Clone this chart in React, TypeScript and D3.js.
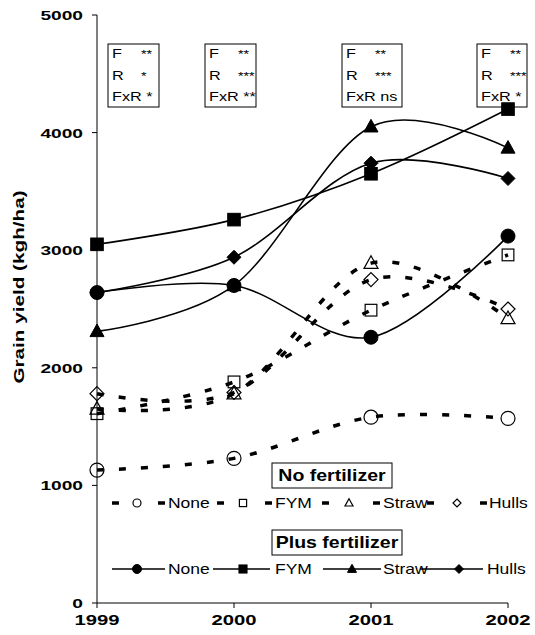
import React from "react";
import * as d3 from "d3";

const years = [1999, 2000, 2001, 2002];
const yTicks = [0, 1000, 2000, 3000, 4000, 5000];

// Plus fertilizer
const plusNone = [2640, 2700, 2260, 3120];
const plusFYM = [3050, 3260, 3650, 4200];
const plusStraw = [2310, 2700, 4050, 3870];
const plusHulls = [2640, 2940, 3740, 3610];
// No fertilizer
const noNone = [1130, 1230, 1580, 1570];
const noFYM = [1610, 1880, 2490, 2960];
const noStraw = [1650, 1780, 2890, 2420];
const noHulls = [1780, 1790, 2750, 2500];

const residueNames = ["None", "FYM", "Straw", "Hulls"];
const statsF = ["**", "**", "**", "**"];
const statsR = ["*", "***", "***", "***"];
const statsFxR = ["*", "**", "ns", "*"];

const FONT = "Arial, 'Liberation Sans', Helvetica, sans-serif";

type Shape = "circle" | "square" | "triangle" | "diamond";
const shapes: Shape[] = ["circle", "square", "triangle", "diamond"];

function Marker({ shape, x, y, size, filled }: { shape: Shape; x: number; y: number; size: number; filled: boolean }) {
  const fill = filled ? "#000" : "none";
  const stroke = "#000";
  const sw = filled ? 1 : 1.2;
  const h = size / 2;
  if (shape === "circle") return <circle cx={x} cy={y} r={h} fill={fill} stroke={stroke} strokeWidth={sw} />;
  if (shape === "square") return <rect x={x - h * 0.9} y={y - h * 0.9} width={size * 0.9} height={size * 0.9} fill={fill} stroke={stroke} strokeWidth={sw} />;
  if (shape === "triangle")
    return <path d={`M${x},${y - h * 1.05}L${x + h},${y + h * 0.75}L${x - h},${y + h * 0.75}Z`} fill={fill} stroke={stroke} strokeWidth={sw} />;
  return <path d={`M${x},${y - h}L${x + h},${y}L${x},${y + h}L${x - h},${y}Z`} fill={fill} stroke={stroke} strokeWidth={sw} />;
}

// Text widened along its own direction (the reference uses a wide face)
function WText({
  x,
  y,
  sx,
  size,
  bold,
  anchor,
  rotate,
  children,
}: {
  x: number;
  y: number;
  sx: number;
  size: number;
  bold?: boolean;
  anchor?: "start" | "middle" | "end";
  rotate?: number;
  children: React.ReactNode;
}) {
  const t = `translate(${x},${y})${rotate ? ` rotate(${rotate})` : ""} scale(${sx},1)`;
  return (
    <text transform={t} fontSize={size} fontWeight={bold ? "bold" : "normal"} textAnchor={anchor || "start"}>
      {children}
    </text>
  );
}

export default function App() {
  const W = 535;
  const H = 635;
  const x = d3.scaleLinear().domain([1999, 2002]).range([97, 508]);
  const y = d3.scaleLinear().domain([0, 5000]).range([603, 15]);
  const line = d3
    .line<number>()
    .x((_, i) => x(years[i]))
    .y((d) => y(d))
    .curve(d3.curveCatmullRom.alpha(0));

  const noSeries = [noNone, noFYM, noStraw, noHulls];
  const plusSeries = [plusNone, plusFYM, plusStraw, plusHulls];

  const boxes = [
    { x: 108, w: 51 },
    { x: 205, w: 51 },
    { x: 342, w: 60 },
    { x: 477, w: 50 },
  ];

  const legNo = [
    { x1: 112, x2: 165, m: 137, t: 168 },
    { x1: 217, x2: 272, m: 243, t: 275 },
    { x1: 322, x2: 380, m: 349, t: 383 },
    { x1: 427, x2: 487, m: 457, t: 489 },
  ];
  const legPlus = [
    { x1: 112, x2: 165, m: 137, t: 168 },
    { x1: 213, x2: 270, m: 243, t: 275 },
    { x1: 323, x2: 381, m: 352, t: 383 },
    { x1: 420, x2: 483, m: 459, t: 487 },
  ];

  return (
    <svg width={W} height={H} style={{ position: "absolute", left: 0, top: 0, background: "#fff" }} fontFamily={FONT}>
      <rect width={W} height={H} fill="#fff" />
      {/* Axes */}
      <line x1={x(1999)} x2={x(1999)} y1={y(5000)} y2={y(0)} stroke="#000" strokeWidth={1} />
      <line x1={x(1999)} x2={x(2002)} y1={y(0)} y2={y(0)} stroke="#000" strokeWidth={1} />
      {yTicks.map((t) => (
        <g key={t}>
          <line x1={x(1999) - 5} x2={x(1999)} y1={y(t)} y2={y(t)} stroke="#000" />
          <WText x={83} y={y(t) + 5} sx={1.42} size={13.5} bold anchor="end">
            {t}
          </WText>
        </g>
      ))}
      {years.map((yr) => (
        <g key={yr}>
          <line x1={x(yr)} x2={x(yr)} y1={y(0)} y2={y(0) + 5} stroke="#000" />
          <WText x={x(yr)} y={625} sx={1.35} size={15} bold anchor="middle">
            {yr}
          </WText>
        </g>
      ))}
      <WText x={24} y={287} sx={1.38} size={15} bold anchor="middle" rotate={-90}>
        Grain yield (kgh/ha)
      </WText>

      {/* Stats boxes */}
      {boxes.map((b, i) => (
        <g key={i}>
          <rect x={b.x} y={44} width={b.w} height={63} fill="#fff" stroke="#000" strokeWidth={1} />
          <WText x={b.x + 4} y={58} sx={1.3} size={12.5}>F</WText>
          <WText x={b.x + 33} y={58} sx={1.3} size={11}>{statsF[i]}</WText>
          <WText x={b.x + 4} y={80} sx={1.3} size={12.5}>R</WText>
          <WText x={b.x + 33} y={80} sx={1.3} size={11}>{statsR[i]}</WText>
          <WText x={b.x + 4} y={101} sx={1.3} size={12.5}>{`FxR ${statsFxR[i]}`}</WText>
        </g>
      ))}

      {/* Lines */}
      {noSeries.map((s, i) => (
        <path key={"nl" + i} d={line(s) || ""} fill="none" stroke="#000" strokeWidth={3.5} strokeDasharray="7,15" />
      ))}
      {plusSeries.map((s, i) => (
        <path key={"pl" + i} d={line(s) || ""} fill="none" stroke="#000" strokeWidth={1.6} />
      ))}
      {/* Markers */}
      {noSeries.map((s, i) =>
        s.map((v, j) => <Marker key={`nm${i}-${j}`} shape={shapes[i]} x={x(years[j])} y={y(v)} size={i === 1 ? 13 : 14} filled={false} />)
      )}
      {plusSeries.map((s, i) =>
        s.map((v, j) => <Marker key={`pm${i}-${j}`} shape={shapes[i]} x={x(years[j])} y={y(v)} size={14} filled={true} />)
      )}

      {/* Legend: No fertilizer */}
      <rect x={272} y={463} width={120} height={25} fill="#fff" stroke="#000" />
      <WText x={332} y={481} sx={1.22} size={16} bold anchor="middle">
        No fertilizer
      </WText>
      {legNo.map((l, i) => (
        <g key={"ln" + i}>
          <line x1={l.x1} x2={l.x2} y1={503} y2={503} stroke="#000" strokeWidth={3.5} strokeDasharray={`7,${l.x2 - l.x1 - 14}`} />
          <Marker shape={shapes[i]} x={l.m} y={503} size={8} filled={false} />
          <WText x={l.t} y={508} sx={1.25} size={14}>
            {residueNames[i]}
          </WText>
        </g>
      ))}

      {/* Legend: Plus fertilizer */}
      <rect x={272} y={530} width={130} height={25} fill="#fff" stroke="#000" />
      <WText x={337} y={548} sx={1.22} size={16} bold anchor="middle">
        Plus fertilizer
      </WText>
      {legPlus.map((l, i) => (
        <g key={"lp" + i}>
          <line x1={l.x1} x2={l.x2} y1={569} y2={569} stroke="#000" strokeWidth={1.6} />
          <Marker shape={shapes[i]} x={l.m} y={569} size={9} filled={true} />
          <WText x={l.t} y={574} sx={1.25} size={14}>
            {residueNames[i]}
          </WText>
        </g>
      ))}
    </svg>
  );
}
